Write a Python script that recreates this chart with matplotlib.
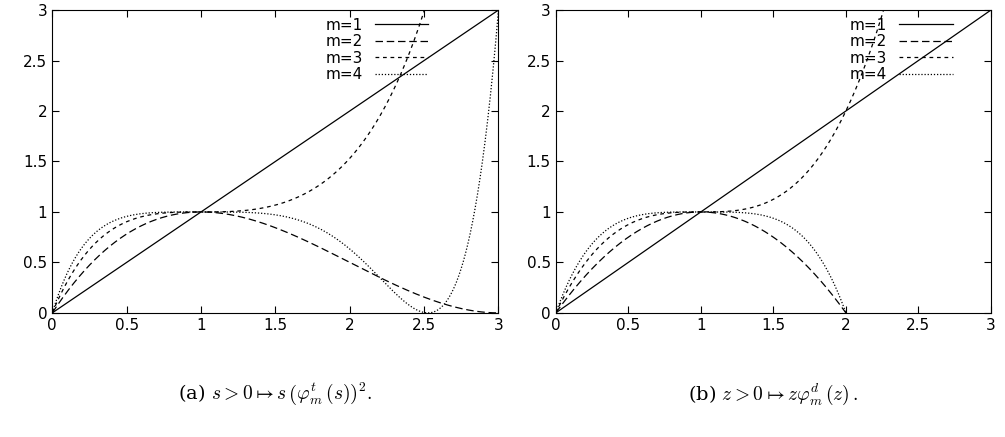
import numpy as np
import matplotlib
matplotlib.use("Agg")
import matplotlib.pyplot as plt
plt.rcParams["mathtext.fontset"] = "cm"

labels = ["m=1", "m=2", "m=3", "m=4"]
# Taylor coefficients in powers of (x-1)
coef_t = [1.0, -0.5, 0.375, -0.3125]   # s^{-1/2}
coef_d = [1.0, -1.0, 1.0, -1.0]        # 1/z
styles = ["-", (0, (6, 3)), (0, (3, 3)), (0, (1, 1.5))]
xticks = [0, 0.5, 1, 1.5, 2, 2.5, 3]
yticks = [0, 0.5, 1, 1.5, 2, 2.5, 3]
captions = [(r"(a) ", r"$s>0\mapsto s\,\left(\varphi_m^t\,(s)\right)^2.$"),
            (r"(b) ", r"$z>0\mapsto z\varphi_m^d\,(z)\,.$")]

x = np.linspace(0, 3, 2001)
fig = plt.figure(figsize=(10.05, 4.37), dpi=100)
axs = [fig.add_axes([0.052, 0.284, 0.444, 0.693]),
       fig.add_axes([0.553, 0.284, 0.433, 0.693])]
legx = [0.86, 0.93]
for k, ax in enumerate(axs):
    coef = coef_t if k == 0 else coef_d
    for m in range(1, 5):
        phi = sum(c * (x - 1) ** i for i, c in enumerate(coef[:m]))
        y = x * phi ** 2 if k == 0 else x * phi
        if k == 1 and m == 4:
            y = np.where(y >= 0, y, np.nan)
        ax.plot(x, y, color="black", lw=0.9, linestyle=styles[m - 1], label=labels[m - 1])
    ax.set_xlim(0, 3); ax.set_ylim(0, 3)
    ax.set_xticks(xticks); ax.set_yticks(yticks)
    ax.set_xticklabels([f"{t:g}" for t in xticks]); ax.set_yticklabels([f"{t:g}" for t in yticks])
    ax.tick_params(direction="in", top=True, right=True, labelsize=11, length=5)
    ax.legend(loc="upper right", bbox_to_anchor=(legx[k], 1.0), frameon=False, markerfirst=False,
              handlelength=3.5, fontsize=11, borderaxespad=0.1, labelspacing=0.1)
    ax.text(0.5, -0.27, captions[k][0] + captions[k][1], transform=ax.transAxes, ha="center",
            va="center", fontsize=14, family="DejaVu Serif")
fig.savefig("out.png", dpi=100)
